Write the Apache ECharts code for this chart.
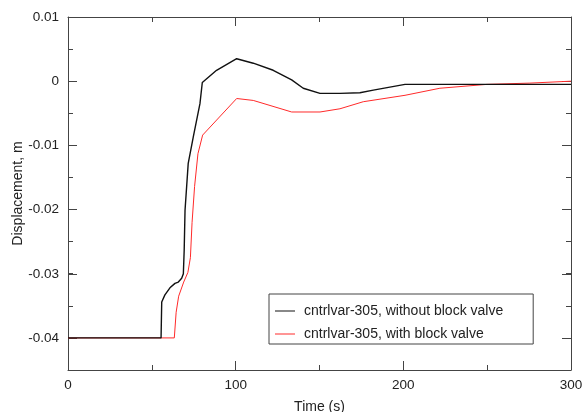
<!DOCTYPE html>
<html>
<head>
<meta charset="utf-8">
<script src="https://cdn.jsdelivr.net/npm/echarts@6/dist/echarts.min.js"></script>
<style>
html, body { margin: 0; padding: 0; background: #fff; }
#main { width: 584px; height: 412px; }
</style>
</head>
<body>
<div id="main"></div>
<script>
// time (s), displacement (m)
var withoutTime = [0, 55.5, 55.9, 57.8, 60.8, 63.8, 65.8, 67.8, 68.8, 69.3, 69.8, 71.7, 74.7, 78.7, 80.1, 88.6, 100.6, 110.5, 122.4, 133.4, 140.3, 150.3, 162.2, 174.1, 182.1, 201, 300];
var withoutDisp = [-0.04, -0.04, -0.0344, -0.0333, -0.0322, -0.0315, -0.0313, -0.0307, -0.0300, -0.0263, -0.0201, -0.0128, -0.0087, -0.0035, -0.0002, 0.0017, 0.0035, 0.0028, 0.0017, 0.0002, -0.0011, -0.0019, -0.0019, -0.0018, -0.0014, -0.0005, -0.0005];
var withTime = [0, 63.4, 64.5, 66, 69, 71.5, 73, 74, 75.5, 77.5, 80.3, 100.6, 110.5, 133.4, 150.3, 162.2, 176.1, 201, 221.8, 249.7, 275.5, 300];
var withDisp = [-0.04, -0.04, -0.036, -0.0335, -0.0313, -0.0298, -0.0275, -0.022, -0.0164, -0.0113, -0.0084, -0.0027, -0.003, -0.0048, -0.0048, -0.0043, -0.0032, -0.0022, -0.0011, -0.0005, -0.0003, 0.0];
var seriesNames = ['cntrlvar-305, without block valve', 'cntrlvar-305, with block valve'];

function pairs(xs, ys) {
	var out = [];
	for (var i = 0; i < xs.length; i++) {
		out.push([xs[i], ys[i]]);
	}
	return out;
}

var font = 'Liberation Sans, Arial, sans-serif';
var axisColor = '#444';
var textColor = '#222';

var chart = echarts.init(document.getElementById('main'));

function xAx(pos, labels) {
	return {
		type: 'value',
		gridIndex: 0,
		position: pos,
		min: 0,
		max: 300,
		interval: 100,
		name: labels ? 'Time (s)' : '',
		nameLocation: 'middle',
		nameGap: 30,
		nameTextStyle: { fontFamily: font, fontSize: 14, color: textColor },
		axisLine: { show: true, onZero: false, lineStyle: { color: axisColor, width: 1 } },
		axisTick: { show: true, inside: true, length: 9, lineStyle: { color: axisColor } },
		minorTick: { show: true, splitNumber: 2, length: 5, lineStyle: { color: axisColor } },
		axisLabel: { show: labels, margin: 8, fontFamily: font, fontSize: 13.5, color: textColor },
		splitLine: { show: false }
	};
}

// main grid y axes: full range, short ticks every 0.005
function yMinor(pos, named) {
	return {
		type: 'value',
		gridIndex: 0,
		position: pos,
		min: -0.045,
		max: 0.01,
		interval: 0.005,
		name: named ? 'Displacement, m' : '',
		nameLocation: 'middle',
		nameGap: 43,
		nameTextStyle: { fontFamily: font, fontSize: 14, color: textColor },
		axisLine: { show: true, onZero: false, lineStyle: { color: axisColor, width: 1 } },
		axisTick: { show: true, inside: true, length: 5, lineStyle: { color: axisColor } },
		axisLabel: { show: false },
		splitLine: { show: false }
	};
}

// second grid from -0.04 up: long ticks and labels every 0.01
function yMajor(pos, labels) {
	return {
		type: 'value',
		gridIndex: 1,
		position: pos,
		min: -0.04,
		max: 0.01,
		interval: 0.01,
		axisLine: { show: false },
		axisTick: { show: true, inside: true, length: 9, lineStyle: { color: axisColor } },
		axisLabel: { show: labels, margin: 9, fontFamily: font, fontSize: 13.5, color: textColor },
		splitLine: { show: false }
	};
}

var option = {
	animation: false,
	backgroundColor: '#fff',
	grid: [
		{ left: 68, right: 13, top: 17, bottom: 42, outerBoundsMode: 'none', containLabel: false },
		{ left: 68, right: 13, top: 17, bottom: 74, outerBoundsMode: 'none', containLabel: false }
	],
	legend: {
		orient: 'vertical',
		left: 269,
		top: 294,
		padding: [10, 30, 3, 6],
		itemGap: 9,
		itemWidth: 20,
		itemHeight: 1,
		icon: 'rect',
		borderColor: '#444',
		borderWidth: 1,
		textStyle: { fontFamily: font, fontSize: 14, color: textColor, padding: [0, 0, 0, 4] },
		data: seriesNames
	},
	xAxis: [
		xAx('bottom', true),
		xAx('top', false),
		{ type: 'value', gridIndex: 1, min: 0, max: 300, show: false }
	],
	yAxis: [
		yMinor('left', true),
		yMinor('right', false),
		yMajor('left', true),
		yMajor('right', false)
	],
	series: [{
		name: seriesNames[0],
		type: 'line',
		xAxisIndex: 0,
		yAxisIndex: 0,
		showSymbol: false,
		symbol: 'none',
		z: 3,
		lineStyle: { color: '#111', width: 1.4 },
		itemStyle: { color: '#111' },
		data: pairs(withoutTime, withoutDisp)
	}, {
		name: seriesNames[1],
		type: 'line',
		xAxisIndex: 0,
		yAxisIndex: 0,
		showSymbol: false,
		symbol: 'none',
		z: 2,
		lineStyle: { color: '#ff2a2a', width: 1 },
		itemStyle: { color: '#ff2a2a' },
		data: pairs(withTime, withDisp)
	}]
};
chart.setOption(option);
</script>
</body>
</html>
